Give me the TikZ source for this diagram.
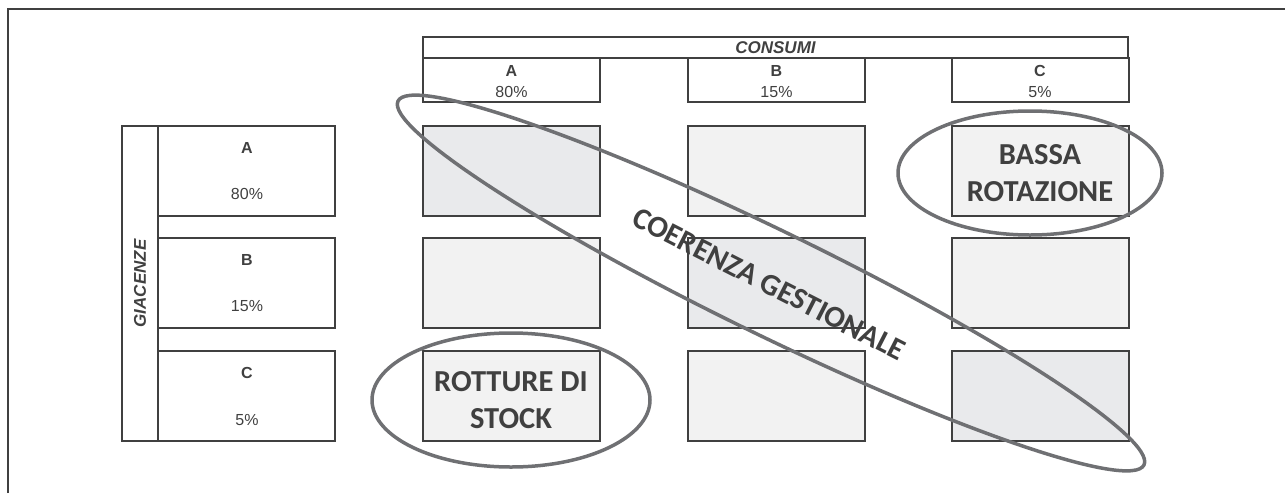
\documentclass[tikz,border=0pt]{standalone}
\usepackage{fontspec}
\setmainfont{Liberation Sans}
\newfontfamily\calfont{Carlito}
\definecolor{lin}{HTML}{404040}
\definecolor{ell}{HTML}{6F7073}
\definecolor{fillA}{HTML}{E9EAEC}
\definecolor{fillB}{HTML}{F2F2F2}
\begin{document}
\begin{tikzpicture}[x=1pt,y=-1pt,
  box/.style={draw=lin,line width=2pt,rectangle,inner sep=0pt,anchor=center},
  cellbox/.style={box,minimum width=177pt,minimum height=90pt},
  diagcell/.style={cellbox,fill=fillA},
  offcell/.style={cellbox,fill=fillB},
  hdrbox/.style={box,minimum width=177pt,minimum height=44pt},
  rowbox/.style={box,minimum width=177pt,minimum height=90pt},
  small/.style={text=lin,inner sep=0pt,font=\fontsize{16}{19}\selectfont},
  smallb/.style={small,font=\fontsize{16}{19}\selectfont\bfseries},
  titl/.style={text=lin,inner sep=0pt,font=\fontsize{17}{20}\selectfont\bfseries\itshape},
  big/.style={text=lin,inner sep=0pt,align=center,font=\fontsize{30.5}{37}\selectfont\calfont\bfseries},
  ring/.style={draw=ell,line width=3.5pt}]
\useasboundingbox (0,0) rectangle (1285,493);
% outer frame
\coordinate (f1) at (8,493);
\coordinate (f2) at (8,9);
\coordinate (f3) at (1285,9);
\draw[lin,line width=2pt] (f1) -- (f2) -- (f3);
% CONSUMI header
\node[box,minimum width=705pt,minimum height=21pt] (cons) at (775.5,47.5) {};
\node[titl] (consT) at (cons.center) {CONSUMI};
\node[hdrbox] (hA) at (511.5,80) {};
\node[hdrbox] (hB) at (776.5,80) {};
\node[hdrbox] (hC) at (1040,80) {};
\node[smallb] (hAl) at (511.5,71) {A};
\node[small] (hAp) at (511.5,92) {80\%};
\node[smallb] (hBl) at (776.5,71) {B};
\node[small] (hBp) at (776.5,92) {15\%};
\node[smallb] (hCl) at (1040,71) {C};
\node[small] (hCp) at (1040,92) {5\%};
% GIACENZE
\node[box,minimum width=36pt,minimum height=315pt] (giac) at (140,283.5) {};
\node[titl,rotate=90] (giacT) at (giac.center) {GIACENZE};
\node[rowbox] (rA) at (246.5,171) {};
\node[rowbox] (rB) at (246.5,283) {};
\node[rowbox] (rC) at (246.5,396) {};
\node[smallb] (rAl) at (247,148) {A};
\node[small] (rAp) at (247,194) {80\%};
\node[smallb] (rBl) at (247,260) {B};
\node[small] (rBp) at (247,306) {15\%};
\node[smallb] (rCl) at (247,373) {C};
\node[small] (rCp) at (247,420) {5\%};
% grid cells
\node[diagcell] (cAA) at (511.5,171) {};
\node[offcell] (cAB) at (776.5,171) {};
\node[offcell] (cAC) at (1040,171) {};
\node[offcell] (cBA) at (511.5,283) {};
\node[diagcell] (cBB) at (776.5,283) {};
\node[offcell] (cBC) at (1040,283) {};
\node[offcell] (cCA) at (511.5,396) {};
\node[offcell] (cCB) at (776.5,396) {};
\node[diagcell] (cCC) at (1040,396) {};
% ellipses
\draw[ring] (771,283) ellipse [x radius=415pt, y radius=52pt, rotate=-26];
\draw[ring] (511,400) ellipse [x radius=139pt, y radius=67pt];
\draw[ring] (1030,173) ellipse [x radius=132pt, y radius=62pt];
% big labels
\node[big] (rot) at (511,400) {ROTTURE DI\\STOCK};
\node[big] (bas) at (1040,173.5) {BASSA\\ROTAZIONE};
\node[big,rotate=-27] (coe) at (769,284) {COERENZA GESTIONALE};
\end{tikzpicture}
\end{document}
